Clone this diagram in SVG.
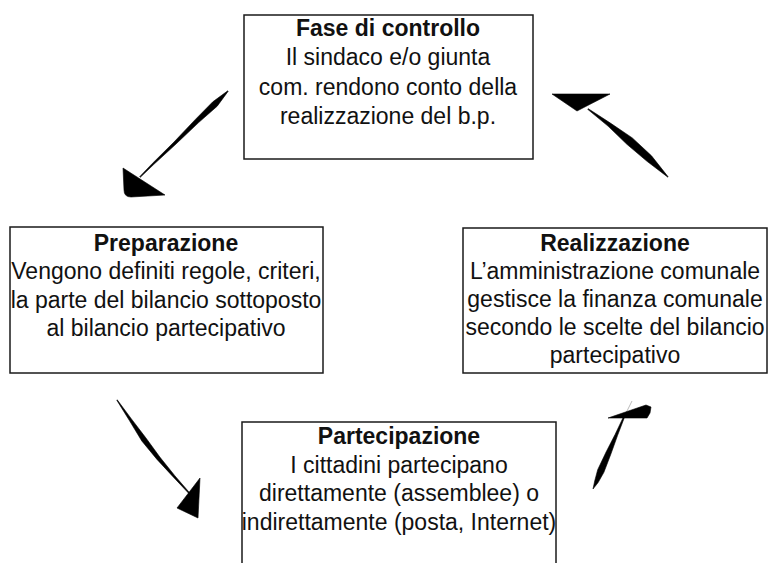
<svg xmlns="http://www.w3.org/2000/svg" width="770" height="563" viewBox="0 0 770 563">
<style>
.box{fill:#fff;stroke:#1a1a1a;stroke-width:1.5}
.t{font-family:"Liberation Sans",Arial,sans-serif;font-size:23px;text-anchor:middle;fill:#111}
.h{font-weight:bold}
.ink{fill:#000;stroke:#000;stroke-width:0.6;stroke-linejoin:round}
</style>
<rect width="770" height="563" fill="#fff"/>
<g id="node-controllo">
<rect class="box" x="244" y="15" width="289" height="144"/>
<text class="t h" x="388" y="36">Fase di controllo</text>
<text class="t" x="388" y="65">Il sindaco e/o giunta</text>
<text class="t" x="388" y="95">com. rendono conto della</text>
<text class="t" x="388" y="124">realizzazione del b.p.</text>
</g>
<g id="node-preparazione">
<rect class="box" x="10" y="227" width="313" height="146"/>
<text class="t h" x="166" y="251">Preparazione</text>
<text class="t" x="166" y="279">Vengono definiti regole, criteri,</text>
<text class="t" x="166" y="308">la parte del bilancio sottoposto</text>
<text class="t" x="166" y="336">al bilancio partecipativo</text>
</g>
<g id="node-realizzazione">
<rect class="box" x="463" y="228" width="304" height="145"/>
<text class="t h" x="615" y="251">Realizzazione</text>
<text class="t" x="615" y="279">L’amministrazione comunale</text>
<text class="t" x="615" y="307">gestisce la finanza comunale</text>
<text class="t" x="615" y="335">secondo le scelte del bilancio</text>
<text class="t" x="615" y="363">partecipativo</text>
</g>
<g id="node-partecipazione">
<rect class="box" x="242" y="422" width="314" height="150"/>
<text class="t h" x="399" y="444">Partecipazione</text>
<text class="t" x="399" y="473">I cittadini partecipano</text>
<text class="t" x="399" y="501">direttamente (assemblee) o</text>
<text class="t" x="399" y="530">indirettamente (posta, Internet)</text>
</g>
<g id="connectors">
<path class="ink" d="M228.2,91.2 L217.2,106.2 L198.6,122.6 L176,144 L153.6,164.6 L140.3,177.3 L139.7,176.7 L152.4,163.4 L174,142 L195.4,119.4 L212.8,101.8 L227.8,90.8 Z"/>
<path class="ink" d="M123,168 L165,195 L131,197 Q124,197 124,190 Z"/>
<path class="ink" d="M588.3,108.7 L610.4,123.1 L632.3,137.9 L651.5,155.8 L668.1,176.8 L667.9,177.2 L647,161.3 L626.9,144.3 L608,126.1 L587.7,109.3 Z"/>
<path class="ink" d="M552,94 L610,94 L577,111 Z"/>
<path class="ink" d="M117.2,399.8 L131.4,418.9 L145.8,437.8 L159.8,457 L174.8,475.7 L190.4,493.7 L189.6,494.3 L173.2,476.9 L157,459.4 L141.8,441 L129.4,420.5 L116.8,400.2 Z"/>
<path class="ink" d="M200,478 L198,518 L177,508 Z"/>
<line x1="624" y1="417" x2="632" y2="401" stroke="#bbb" stroke-width="1"/>
<path class="ink" d="M624.5,417.2 L617.5,435.6 L610.9,454 L603.9,472.3 L598.1,482.6 L593,489 L594.7,481 L597.7,469.7 L606.1,452 L615.1,434.4 L623.5,416.8 Z"/>
<path class="ink" d="M608,418 L646,405 L651,407 L650,413 L647,418 Z"/>
</g>
</svg>
